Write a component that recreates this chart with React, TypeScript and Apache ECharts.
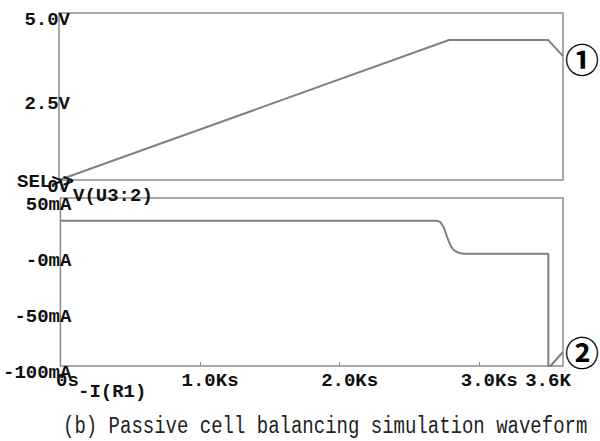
import React, { useEffect, useRef } from "react";
import * as echarts from "echarts";

// Time axis (Ks)
const timeTicks = [0, 1, 2, 3, 3.6];
const timeLabels = ["0s", "1.0Ks", "2.0Ks", "3.0Ks", "3.6K"];
// Voltage axis (V)
const voltTicks = [0, 2.5, 5];
const voltLabels = ["0V", "2.5V", "5.0V"];
// Current axis (mA)
const currTicks = [-100, -50, 0, 50];
const currLabels = ["-100mA", "-50mA", "-0mA", "50mA"];

// V(U3:2) trace
const vTime = [0, 2.786, 3.495, 3.6];
const vValues = [0, 4.19, 4.19, 3.71];

// -I(R1) trace
const iTime = [0, 2.698, 2.721, 2.745, 2.769, 2.793, 2.816, 2.85, 2.886, 3.495, 3.495, 3.51, 3.6];
const iValues = [29.7, 29.7, 28.6, 24.1, 15.4, 8, 3.6, 1.2, 0.3, 0.3, -100, -100, -87.5];

const MONO = "'Liberation Mono', 'DejaVu Sans Mono', monospace";
const TRACE = "#808080";
const FRAME = "#8c8c8c";

function lookup(ticks: number[], labels: string[], v: number): string {
  const i = ticks.findIndex((t) => Math.abs(t - v) < 1e-6);
  return i >= 0 ? labels[i] : "";
}

export default function App() {
  const ref = useRef<HTMLDivElement>(null);

  useEffect(() => {
    if (!ref.current) return;
    const chart = echarts.init(ref.current, undefined, { renderer: "svg" });
    const tickFont = { fontFamily: MONO, fontSize: 19, fontWeight: "bold" as const, color: "#111" };

    chart.setOption({
      animation: false,
      backgroundColor: "#fff",
      grid: [
        { left: 59, top: 13, width: 504, height: 167, show: true, borderColor: FRAME, borderWidth: 1.5, backgroundColor: "transparent", containLabel: false },
        { left: 59, top: 198, width: 504, height: 168, show: true, borderColor: FRAME, borderWidth: 1.5, backgroundColor: "transparent", containLabel: false },
      ],
      xAxis: [
        {
          gridIndex: 0, type: "value", min: 0, max: 3.6,
          axisLine: { show: false, onZero: false }, axisTick: { show: false }, axisLabel: { show: false }, splitLine: { show: false },
        },
        {
          gridIndex: 1, type: "value", min: 0, max: 3.6, position: "bottom",
          axisLine: { show: false, onZero: false }, splitLine: { show: false },
          axisTick: { show: true, inside: true, length: 4, customValues: [1, 2, 3], lineStyle: { color: FRAME, width: 1 } },
          axisLabel: {
            show: true,
            customValues: timeTicks,
            margin: 5,
            verticalAlign: "top",
            ...tickFont,
            formatter: (v: number) => {
              const s = lookup(timeTicks, timeLabels, v);
              if (Math.abs(v - 3.6) < 1e-6) return `{r|${s}}`;
              if (Math.abs(v) < 1e-6) return `{z|${s}}`;
              return `{n|${s}}`;
            },
            rich: {
              n: { ...tickFont, padding: [0, 0, 0, 20] },
              z: { ...tickFont, padding: [0, 0, 0, 14] },
              r: { ...tickFont, padding: [0, 30, 0, 0] },
            },
          },
        },
      ],
      yAxis: [
        {
          gridIndex: 0, type: "value", min: 0, max: 5, interval: 2.5,
          axisLine: { show: false, onZero: false }, axisTick: { show: false }, splitLine: { show: false },
          axisLabel: {
            margin: -11, verticalAlign: "top", lineHeight: 14, ...tickFont,
            formatter: (v: number) => lookup(voltTicks, voltLabels, v),
          },
        },
        {
          gridIndex: 1, type: "value", min: -100, max: 50, interval: 50,
          axisLine: { show: false, onZero: false }, axisTick: { show: false }, splitLine: { show: false },
          axisLabel: {
            margin: -11, verticalAlign: "top", lineHeight: 13, ...tickFont,
            formatter: (v: number) => lookup(currTicks, currLabels, v),
          },
        },
      ],
      series: [
        {
          type: "line", xAxisIndex: 0, yAxisIndex: 0, showSymbol: false, silent: true,
          data: vTime.map((t, i) => [t, vValues[i]]),
          lineStyle: { color: TRACE, width: 2 },
        },
        {
          type: "line", xAxisIndex: 1, yAxisIndex: 1, showSymbol: false, silent: true,
          data: iTime.map((t, i) => [t, iValues[i]]),
          lineStyle: { color: TRACE, width: 2 },
        },
      ],
      graphic: [
        { type: "text", left: 17, top: 172, z: 10, style: { text: "SEL>>", font: `bold 19px ${MONO}`, fill: "#111" } },
        { type: "rect", shape: { x: 61, y: 187, width: 3, height: 3 }, style: { fill: "none", stroke: "#999", lineWidth: 1 } },
        { type: "text", left: 73, top: 186, style: { text: "V(U3:2)", font: `bold 19px ${MONO}`, fill: "#111" } },
        { type: "text", left: 78, top: 382, style: { text: "-I(R1)", font: `bold 19px ${MONO}`, fill: "#111" } },
        { type: "text", x: 582, y: 58, style: { text: "①", font: "bold 34px 'Noto Sans CJK KR'", fill: "#000", align: "center", verticalAlign: "middle" } },
        { type: "text", x: 582, y: 351, style: { text: "②", font: "bold 34px 'Noto Sans CJK KR'", fill: "#000", align: "center", verticalAlign: "middle" } },
        {
          type: "text", x: 63, y: 426, scaleY: 1.22,
          style: { text: "(b) Passive cell balancing simulation waveform", font: `19px ${MONO}`, fill: "#222", verticalAlign: "middle" },
        },
      ],
    });
    return () => chart.dispose();
  }, []);

  return <div ref={ref} style={{ position: "fixed", left: 0, top: 0, width: 600, height: 441 }} />;
}
